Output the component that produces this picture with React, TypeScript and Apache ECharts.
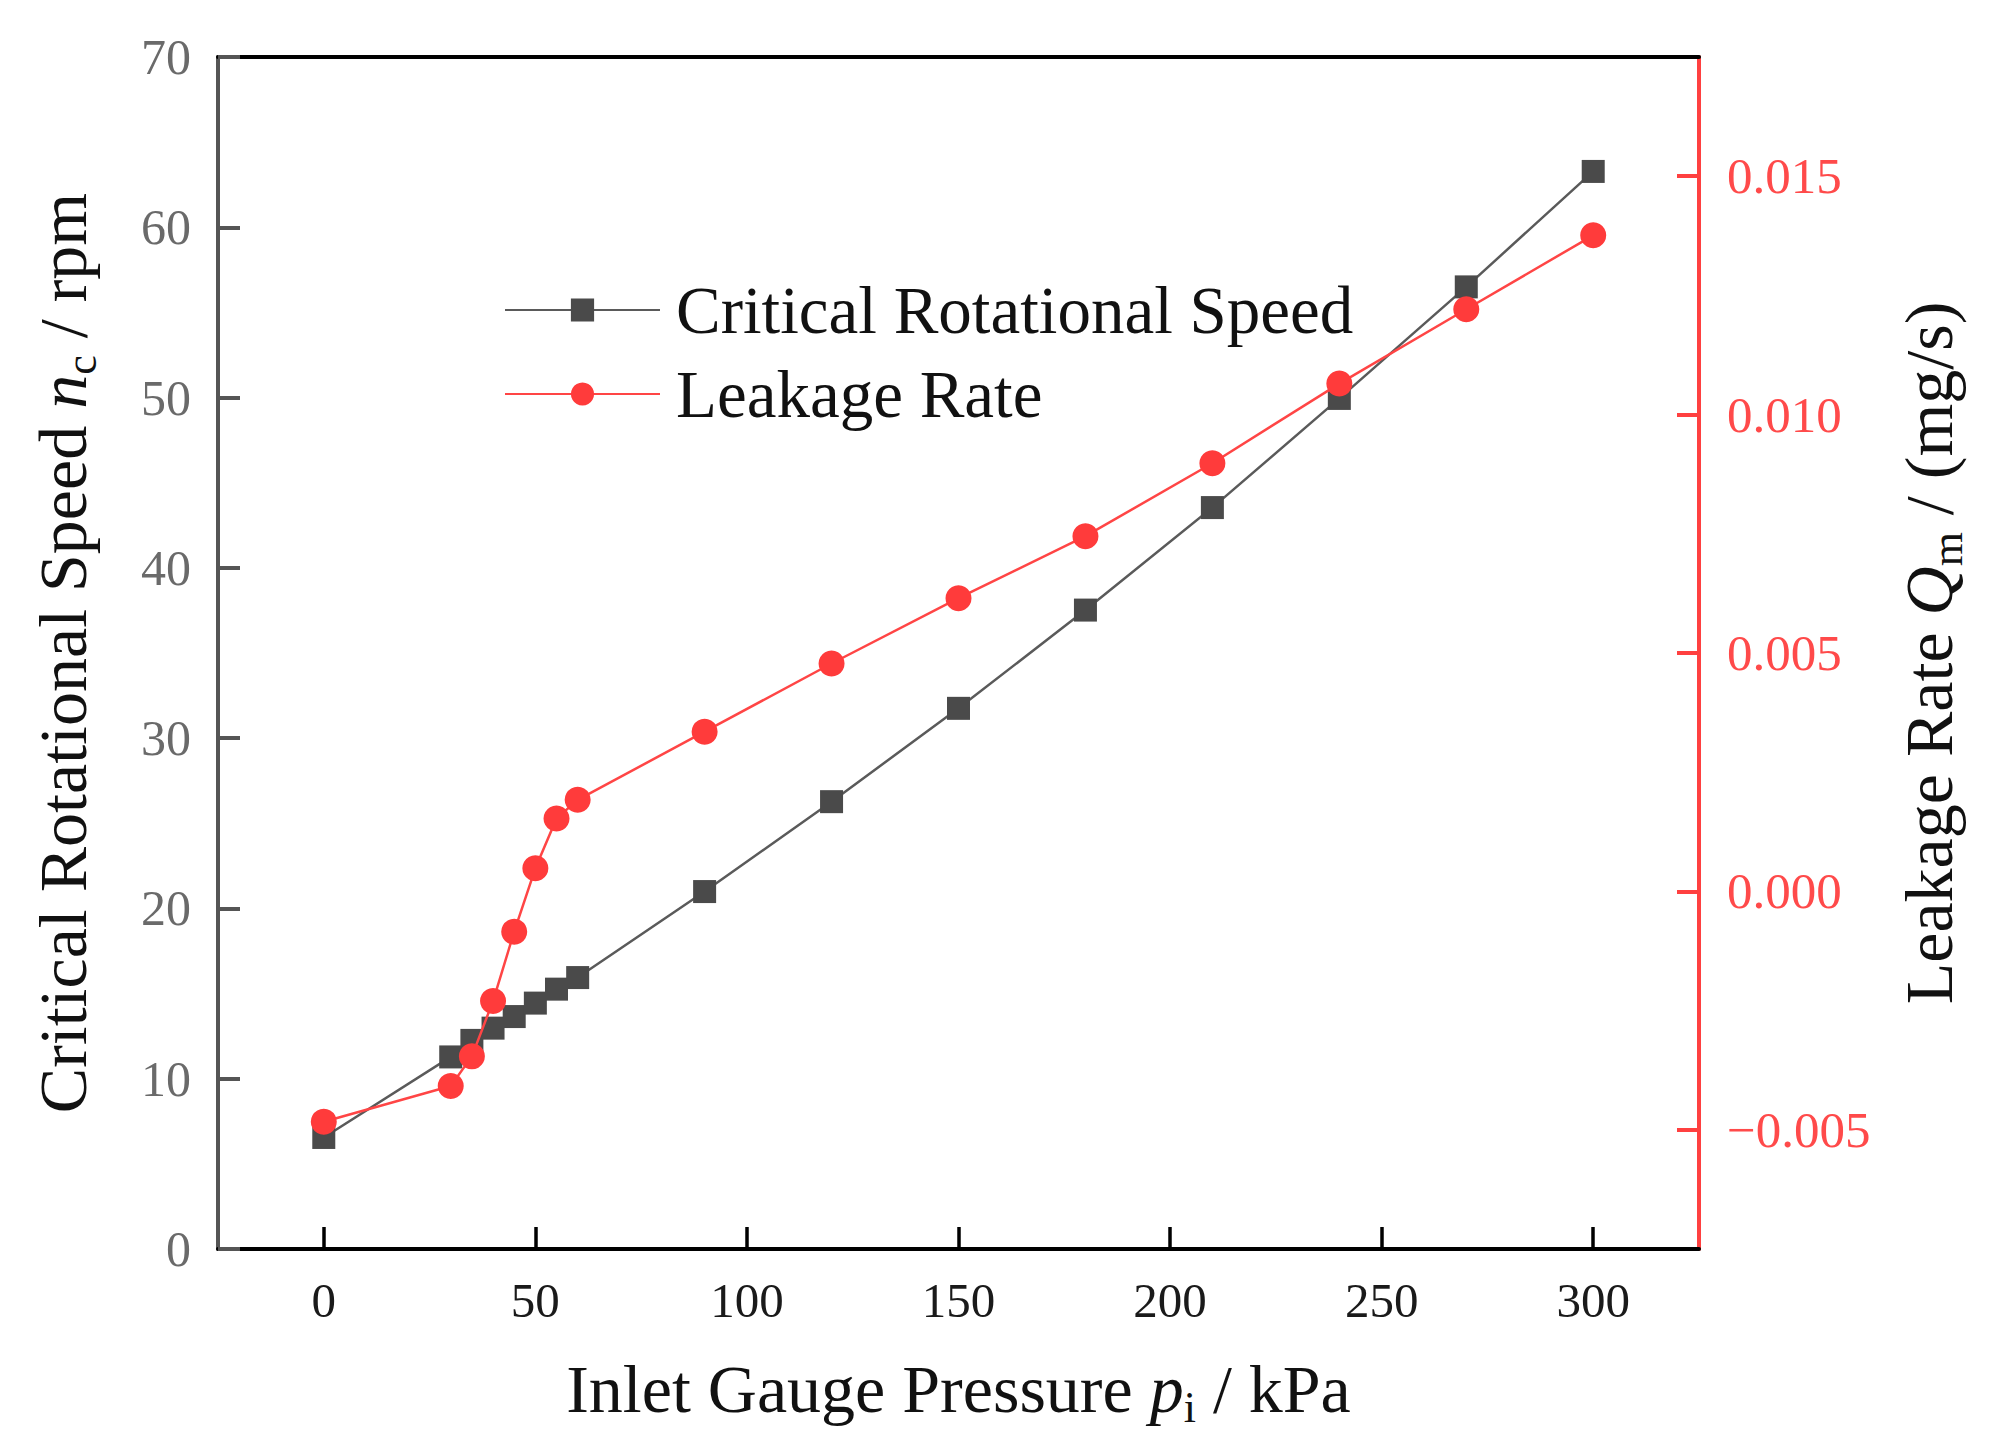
import React, { useEffect, useRef } from "react";
import * as echarts from "echarts";

const pressure = [0, 30, 35, 40, 45, 50, 55, 60, 90, 120, 150, 180, 210, 240, 270, 300];
const criticalSpeed = [6.55, 11.28, 12.25, 12.97, 13.65, 14.44, 15.26, 15.94, 20.99, 26.27, 31.75, 37.52, 43.54, 49.95, 56.5, 63.28];
const leakageRate = [-0.00483, -0.00408, -0.00346, -0.0023, -0.000845, 0.000484, 0.00153, 0.00192, 0.00335, 0.00478, 0.00615, 0.00745, 0.00898, 0.01065, 0.01221, 0.01376];
const xTicks = [0, 50, 100, 150, 200, 250, 300];
const leakTicks = [-0.005, 0, 0.005, 0.01, 0.015];
const seriesNames = ["Critical Rotational Speed", "Leakage Rate"];

const SERIF = "'Liberation Serif', 'Times New Roman', serif";

function nameRich() {
  return {
    a: { fontFamily: SERIF, fontSize: 68, lineHeight: 80, color: "#111" },
    i: { fontFamily: SERIF, fontSize: 68, lineHeight: 80, fontStyle: "italic", color: "#111" },
    s: { fontFamily: SERIF, fontSize: 44, lineHeight: 30, verticalAlign: "bottom", color: "#111" },
  };
}

export default function App() {
  const ref = useRef<HTMLDivElement>(null);
  useEffect(() => {
    if (!ref.current) return;
    const chart = echarts.init(ref.current, undefined, { renderer: "svg" });
    const option: any = {
      animation: false,
      backgroundColor: "#ffffff",
      grid: { left: 218, right: 298, top: 57, bottom: 197, containLabel: false, outerBoundsMode: "none" },
      legend: {
        orient: "vertical",
        left: 499,
        top: 265,
        itemWidth: 155,
        itemHeight: 29,
        itemGap: 4,
        data: seriesNames,
        textStyle: { fontFamily: SERIF, fontSize: 67, lineHeight: 80, color: "#111", padding: [0, 0, 0, 11] },
      },
      xAxis: [
        {
          type: "value",
          min: -25,
          max: 325,
          position: "bottom",
          name: "{a|Inlet Gauge Pressure }{i|p}{s|i}{a| / kPa}",
          nameLocation: "middle",
          nameGap: 100,
          nameTextStyle: { rich: nameRich() },
          axisLine: { show: true, onZero: false, lineStyle: { color: "#000", width: 4 } },
          axisTick: { show: true, inside: true, length: 22, customValues: xTicks, lineStyle: { color: "#000", width: 3.5 } },
          axisLabel: { customValues: xTicks, margin: 27, fontFamily: SERIF, fontSize: 49, color: "#1a1a1a" },
          splitLine: { show: false },
        },
        {
          type: "value",
          min: -25,
          max: 325,
          position: "top",
          axisLine: { show: true, onZero: false, lineStyle: { color: "#000", width: 4 } },
          axisTick: { show: false },
          axisLabel: { show: false },
          splitLine: { show: false },
        },
      ],
      yAxis: [
        {
          type: "value",
          min: 0,
          max: 70,
          interval: 10,
          position: "left",
          name: "{a|Critical Rotational Speed }{i|n}{s|c}{a| / rpm}",
          nameLocation: "middle",
          nameRotate: 90,
          nameGap: 115,
          nameTextStyle: { rich: nameRich() },
          axisLine: { show: true, onZero: false, lineStyle: { color: "#555", width: 4 } },
          axisTick: { show: true, inside: true, length: 22, lineStyle: { color: "#555", width: 4 } },
          axisLabel: { margin: 27, fontFamily: SERIF, fontSize: 50, color: "#6a6a6a" },
          splitLine: { show: false },
        },
        {
          type: "value",
          min: -0.0075,
          max: 0.0175,
          position: "right",
          name: "{a|Leakage Rate }{i|Q}{s|m}{a| / (mg/s)}",
          nameLocation: "middle",
          nameRotate: 90,
          nameGap: 190,
          nameTextStyle: { rich: nameRich() },
          axisLine: { show: true, onZero: false, lineStyle: { color: "#ff4040", width: 4 } },
          axisTick: { show: true, inside: true, length: 22, customValues: leakTicks, lineStyle: { color: "#ff4040", width: 4 } },
          axisLabel: {
            customValues: leakTicks,
            margin: 28,
            fontFamily: SERIF,
            fontSize: 51,
            color: "#ff4a4a",
            formatter: (v: number) => (v < -1e-9 ? "\u2212" : "") + Math.abs(v).toFixed(3),
          },
          splitLine: { show: false },
        },
      ],
      series: [
        {
          name: seriesNames[0],
          type: "line",
          xAxisIndex: 0,
          yAxisIndex: 0,
          data: pressure.map((p, i) => [p, criticalSpeed[i]]),
          symbol: "rect",
          symbolSize: 23,
          itemStyle: { color: "#4a4a4a" },
          lineStyle: { color: "#5a5a5a", width: 2.5 },
          z: 3,
        },
        {
          name: seriesNames[1],
          type: "line",
          xAxisIndex: 0,
          yAxisIndex: 1,
          data: pressure.map((p, i) => [p, leakageRate[i]]),
          symbol: "circle",
          symbolSize: 26,
          itemStyle: { color: "#ff3b3b" },
          lineStyle: { color: "#ff4545", width: 2.5 },
          z: 4,
        },
      ],
    };
    chart.setOption(option);
    return () => chart.dispose();
  }, []);
  return (
    <div
      ref={ref}
      style={{ position: "fixed", left: 0, top: 0, width: 1997, height: 1446, background: "#fff" }}
    />
  );
}
